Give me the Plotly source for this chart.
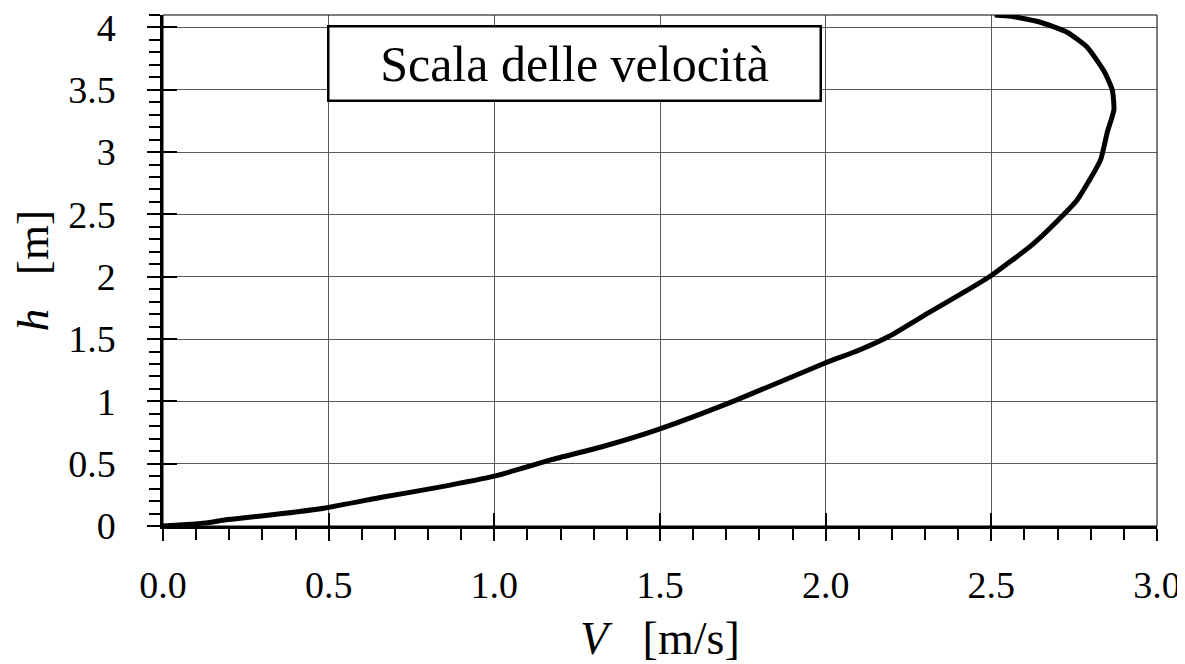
import plotly.graph_objects as go

# Velocity profile data
V = [0.0, 0.06, 0.13, 0.19, 0.26, 0.36, 0.49, 0.66, 0.83, 1.0, 1.17, 1.33, 1.5,
     1.73, 2.0, 2.10, 2.19, 2.31, 2.42, 2.5, 2.62, 2.70, 2.76, 2.83, 2.85, 2.87, 2.865,
     2.84, 2.79, 2.73, 2.65, 2.56, 2.51]
h = [0.0, 0.01, 0.025, 0.05, 0.07, 0.10, 0.145, 0.23, 0.31, 0.40, 0.53, 0.64, 0.78,
     1.01, 1.31, 1.41, 1.52, 1.71, 1.88, 2.01, 2.25, 2.45, 2.62, 2.94, 3.16, 3.34, 3.50,
     3.65, 3.84, 3.96, 4.04, 4.09, 4.10]

x_range = [0, 3]
y_range = [0, 4.1]
box_text = "Scala delle velocità"
x_title = "<i>V</i>\u00a0\u00a0\u00a0[m/s]"
y_title = "<i>h</i>\u00a0\u00a0\u00a0[m]"

FONT = "Liberation Serif, Times New Roman, serif"

fig = go.Figure()
fig.add_trace(go.Scatter(x=V, y=h, mode="lines",
                         line=dict(color="black", width=5, shape="spline", smoothing=0.5),
                         showlegend=False, hoverinfo="skip"))
# dummy trace for overlay axes (inner half of major ticks)
fig.add_trace(go.Scatter(x=[None], y=[None], xaxis="x2", yaxis="y2", showlegend=False))

# page body has an 8px default margin; margins compensate for it
fig.update_layout(
    width=1185, height=664,
    margin=dict(l=155, r=36, t=7, b=146, autoexpand=False),
    paper_bgcolor="white", plot_bgcolor="white",
    font=dict(family=FONT, color="black", size=38),
    xaxis=dict(range=x_range, dtick=0.5, tick0=0, tickformat=".1f", automargin=False,
               showgrid=True, gridcolor="#5a5a5a", gridwidth=1, zeroline=False,
               showline=True, linecolor="black", linewidth=2.5,
               ticks="outside", ticklen=12, tickwidth=2, tickcolor="black",
               minor=dict(ticks="outside", ticklen=11, tickwidth=2, dtick=0.1,
                          tickcolor="black", showgrid=False),
               tickfont=dict(size=38), ticklabelstandoff=12,
               ticklabeloverflow="allow"),
    yaxis=dict(range=y_range, dtick=0.5, tick0=0, automargin=False,
               showgrid=True, gridcolor="#5a5a5a", gridwidth=1, zeroline=False,
               showline=True, linecolor="black", linewidth=2.5,
               ticks="outside", ticklen=13, tickwidth=2, tickcolor="black",
               minor=dict(ticks="outside", ticklen=11, tickwidth=2, dtick=0.1,
                          tickcolor="black", showgrid=False),
               tickfont=dict(size=38), ticklabelstandoff=24,
               ticklabeloverflow="allow"),
    xaxis2=dict(range=x_range, dtick=0.5, tick0=0, overlaying="x", anchor="y",
                side="bottom", ticks="inside", ticklen=13, tickwidth=2, automargin=False,
                tickcolor="black", showticklabels=False, showgrid=False,
                zeroline=False, showline=False),
    yaxis2=dict(range=y_range, dtick=0.5, tick0=0, overlaying="y", anchor="x",
                side="left", ticks="inside", ticklen=14, tickwidth=2, automargin=False,
                tickcolor="black", showticklabels=False, showgrid=False,
                zeroline=False, showline=False),
    shapes=[dict(type="rect", xref="paper", yref="paper", x0=0, y0=0, x1=1, y1=1,
                 line=dict(color="black", width=1), layer="above")],
    annotations=[
        dict(text=box_text, xref="paper", yref="paper", x=0.414, y=0.905,
             xanchor="center", yanchor="middle", showarrow=False,
             font=dict(size=50, family=FONT, color="black"),
             bgcolor="white", bordercolor="black", borderwidth=2.5,
             borderpad=2, width=486, height=68),
        dict(text=x_title, xref="paper", yref="paper", x=0.5, y=-0.221,
             xanchor="center", yanchor="middle", showarrow=False,
             font=dict(size=46, family=FONT, color="black")),
        dict(text=y_title, xref="paper", yref="paper", x=-0.131, y=0.5,
             xanchor="center", yanchor="middle", showarrow=False, textangle=-90,
             font=dict(size=45, family=FONT, color="black")),
    ],
)

fig.write_html("out.html")
